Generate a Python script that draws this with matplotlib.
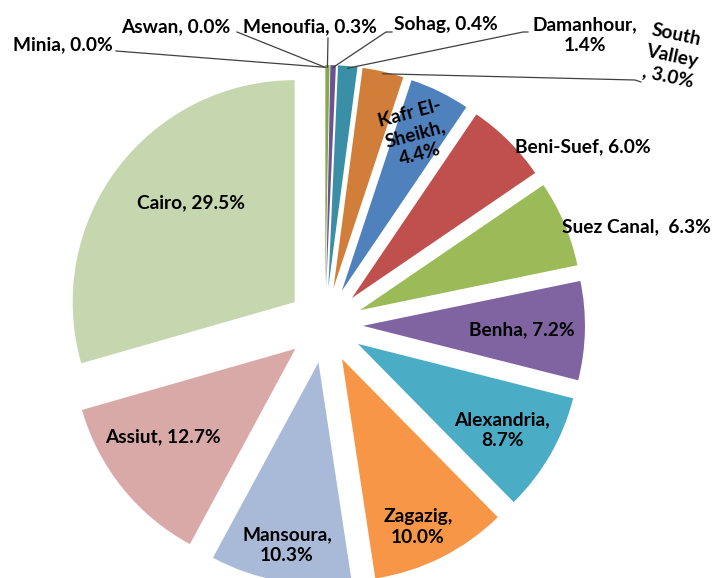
import numpy as np
import matplotlib.pyplot as plt

plt.rcParams['font.family'] = ['Lato', 'DejaVu Sans']

# pie order: clockwise from 12 o'clock
universities = ['Minia', 'Aswan', 'Menoufia', 'Sohag', 'Damanhour', 'South Valley',
                'Kafr El-Sheikh', 'Beni-Suef', 'Suez Canal', 'Benha', 'Alexandria',
                'Zagazig', 'Mansoura', 'Assiut', 'Cairo']
shares = [0.0, 0.0, 0.3, 0.4, 1.4, 3.0, 4.4, 6.0, 6.3, 7.2, 8.7, 10.0, 10.3, 12.7, 29.5]
colors = ['#4F81BD', '#C0504D', '#86A84B', '#6B5393', '#3A8FA6', '#D27E3B',
          '#4F81BD', '#C0504D', '#9BBB59', '#8064A2', '#4BACC6', '#F79646',
          '#A9BAD9', '#D9A9A8', '#C6D6AE']

# how Excel wrapped each label
wrapped = {'Damanhour': 'Damanhour,\n', 'South Valley': 'South\nValley\n, ',
           'Kafr El-Sheikh': 'Kafr El-\nSheikh,\n', 'Suez Canal': 'Suez Canal,  ',
           'Alexandria': 'Alexandria,\n', 'Zagazig': 'Zagazig,\n', 'Mansoura': 'Mansoura,\n'}

# label centres in pixels (from top-left), rotation, leader line points (label end, elbow)
label_px = {
    'Minia': (63, 45, 0), 'Aswan': (176, 27, 0), 'Menoufia': (310, 27, 0),
    'Sohag': (446, 24, 0), 'Damanhour': (585, 35, 0), 'South Valley': (672, 56, -12),
    'Kafr El-Sheikh': (415, 134, 15), 'Beni-Suef': (583, 147, 0),
    'Suez Canal': (636, 227, 0), 'Benha': (522, 330, 0), 'Alexandria': (502, 430, 0),
    'Zagazig': (418, 527, 0), 'Mansoura': (287, 545, 0), 'Assiut': (163, 437, 0),
    'Cairo': (191, 203, 0),
}
leaders = {
    'Minia': [(116, 51)], 'Aswan': [(237, 32)], 'Menoufia': [(328, 38)],
    'Sohag': [(392, 32), (386, 32)], 'Damanhour': [(528, 32), (523, 32)],
    'South Valley': [(641, 82), (635, 80)],
}

W, H = 712, 578
CX, CY, R = 325, 325, 222
explode_frac = 0.171


def px(x, y):
    return (x - CX) / R, (CY - y) / R


fig = plt.figure(figsize=(W / 100, H / 100), dpi=100)
ax = fig.add_axes([0, 0, 1, 1])

wedges, _ = ax.pie(shares, colors=colors, startangle=90, counterclock=False,
                   explode=[explode_frac] * len(shares),
                   wedgeprops=dict(linewidth=0))

ax.set_aspect('equal')
ax.set_xlim(-CX / R, (W - CX) / R)
ax.set_ylim(-(H - CY) / R, CY / R)
ax.axis('off')

total = sum(shares)
start = 0.0
for name, v, w in zip(universities, shares, wedges):
    mid = np.deg2rad(90 - (start + v / 2) / total * 360)
    start += v
    txt = wrapped.get(name, name + ', ') + f'{v:.1f}%'
    x, y, rot = label_px[name]
    ax.text(*px(x, y), txt, ha='center', va='center', rotation=rot,
            rotation_mode='anchor', fontsize=13.8, fontweight='bold',
            color='black', linespacing=1.3, multialignment='center')
    if name in leaders:
        ox, oy = w.center
        tip = (ox + 0.99 * np.cos(mid), oy + 0.99 * np.sin(mid))
        pts = [px(a, b) for a, b in leaders[name]] + [tip]
        xs, ys = zip(*pts)
        ax.plot(xs, ys, color='#404040', linewidth=0.9)

fig.savefig('out.png', dpi=100)
